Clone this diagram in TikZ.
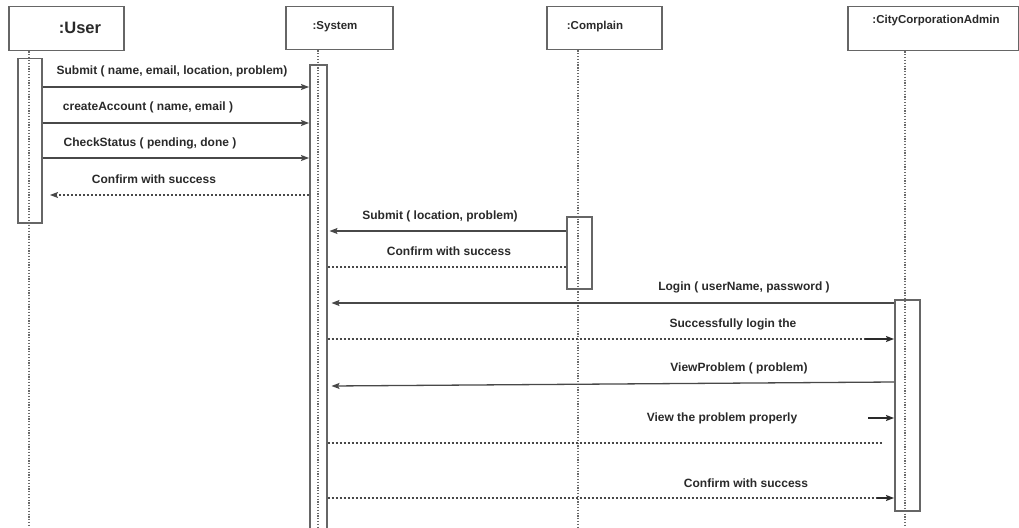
\documentclass[tikz,border=0pt]{standalone}
\usepackage{fontspec}
\setmainfont{Liberation Sans}
\usetikzlibrary{arrows.meta,calc}
\definecolor{ink}{HTML}{2A2A2A}
\definecolor{wire}{HTML}{484848}
\definecolor{edge}{HTML}{666666}
\definecolor{lifeln}{HTML}{6A6A6A}
\tikzset{
  headbox/.style={draw=edge,line width=1.5pt,fill=white,anchor=north west,inner sep=0pt},
  headtxt/.style={text=ink,font=\fontsize{11.5}{13}\selectfont\bfseries,inner sep=0pt},
  bigtxt/.style={text=ink,font=\fontsize{16.5}{19}\selectfont\bfseries,inner sep=0pt},
  actbar/.style={draw=edge,line width=1.5pt,anchor=north west,inner sep=0pt},
  lifeline/.style={draw=lifeln,line width=1.2pt,dash pattern=on 1.2pt off 1.6pt},
  msgtxt/.style={text=ink,font=\fontsize{12}{14}\selectfont\bfseries,inner sep=0pt},
  head/.style={-{Stealth[length=8pt,width=6pt,inset=1.5pt]}},
  msg/.style={draw=wire,line width=1.3pt,head},
  reply/.style={draw=wire,line width=1.1pt,dash pattern=on 2.2pt off 1.8pt},
  tip/.style={draw=ink,line width=1.3pt,head},
}
\begin{document}
\begin{tikzpicture}[x=1pt,y=-1pt]
\useasboundingbox[fill=white] (0,0) rectangle (1019,527);

% head boxes
\node[headbox,minimum width=115pt,minimum height=44pt] (user) at (8,6) {};
\node[headbox,minimum width=107pt,minimum height=43pt] (sys) at (285,6) {};
\node[headbox,minimum width=115pt,minimum height=43pt] (cmp) at (546,6) {};
\node[headbox,minimum width=171pt,minimum height=44pt] (adm) at (847,6) {};
\node[bigtxt] (userlbl) at (80,28) {:User};
\node[headtxt] (syslbl) at (335,27) {:System};
\node[headtxt] (cmplbl) at (595,27) {:Complain};
\node[headtxt] (admlbl) at (936,21) {:CityCorporationAdmin};

% activation bars
\node[actbar,minimum width=24pt,minimum height=164pt] (ubar) at (17,58) {};
\node[actbar,minimum width=17pt,minimum height=470pt] (sbar) at (309,64) {};
\node[actbar,minimum width=25pt,minimum height=72pt] (cbar) at (566,216) {};
\node[actbar,minimum width=25pt,minimum height=211pt] (abar) at (894,299) {};

% lifelines
\coordinate (uend) at (29,527);
\coordinate (send) at (318,527);
\coordinate (cend) at (578,527);
\coordinate (aend) at (905,527);
\draw[lifeline] (user.south west -| uend) -- (uend);
\draw[lifeline] (sys.south west -| send) -- (send);
\draw[lifeline] (cmp.south west -| cend) -- (cend);
\draw[lifeline] (adm.south west -| aend) -- (aend);

% message rows
\coordinate (r1) at (0,87);
\coordinate (r2) at (0,123);
\coordinate (r3) at (0,158);
\coordinate (r4) at (0,195);
\coordinate (r5) at (0,231);
\coordinate (r6) at (0,267);
\coordinate (r7) at (0,303);
\coordinate (r8) at (0,339);
\coordinate (r9a) at (0,382);
\coordinate (r9b) at (0,386);
\coordinate (r10) at (0,418);
\coordinate (r11) at (0,443);
\coordinate (r12) at (0,498);

% User -> System
\draw[msg] (ubar.east |- r1) -- (sbar.west |- r1);
\node[msgtxt] (t1) at (172,71) {Submit ( name, email, location, problem)};
\draw[msg] (ubar.east |- r2) -- (sbar.west |- r2);
\node[msgtxt] (t2) at (148,107) {createAccount ( name, email )};
\draw[msg] (ubar.east |- r3) -- (sbar.west |- r3);
\node[msgtxt] (t3) at (150,143) {CheckStatus ( pending, done )};
\coordinate (u4) at (50,195);
\draw[reply,head] (sbar.west |- r4) -- (u4);
\node[msgtxt] (t4) at (154,179) {Confirm with success};

% Complain -> System
\draw[msg] (cbar.west |- r5) -- ([xshift=2pt]sbar.east |- r5);
\node[msgtxt] (t5) at (440,216) {Submit ( location, problem)};
\draw[reply] (cbar.west |- r6) -- (sbar.east |- r6);
\node[msgtxt] (t6) at (449,251) {Confirm with success};

% Admin <-> System
\draw[msg] (abar.west |- r7) -- ([xshift=4pt]sbar.east |- r7);
\node[msgtxt] (t7) at (744,287) {Login ( userName, password )};

\coordinate (s8) at (865,339);
\draw[reply] (sbar.east |- r8) -- (s8);
\draw[tip] (s8) -- (abar.west |- r8);
\node[msgtxt] (t8) at (733,324) {Successfully login the};

\draw[msg] (abar.west |- r9a) -- ([xshift=4pt]sbar.east |- r9b);
\node[msgtxt] (t9) at (739,368) {ViewProblem ( problem)};

\coordinate (s10) at (868,418);
\draw[tip] (s10) -- (abar.west |- r10);
\node[msgtxt] (t10) at (722,418) {View the problem properly};

\coordinate (e11) at (882,443);
\draw[reply] (sbar.east |- r11) -- (e11);

\coordinate (s12) at (877,498);
\draw[reply] (sbar.east |- r12) -- (s12);
\draw[tip] (s12) -- (abar.west |- r12);
\node[msgtxt] (t12) at (746,483) {Confirm with success};
\end{tikzpicture}
\end{document}
